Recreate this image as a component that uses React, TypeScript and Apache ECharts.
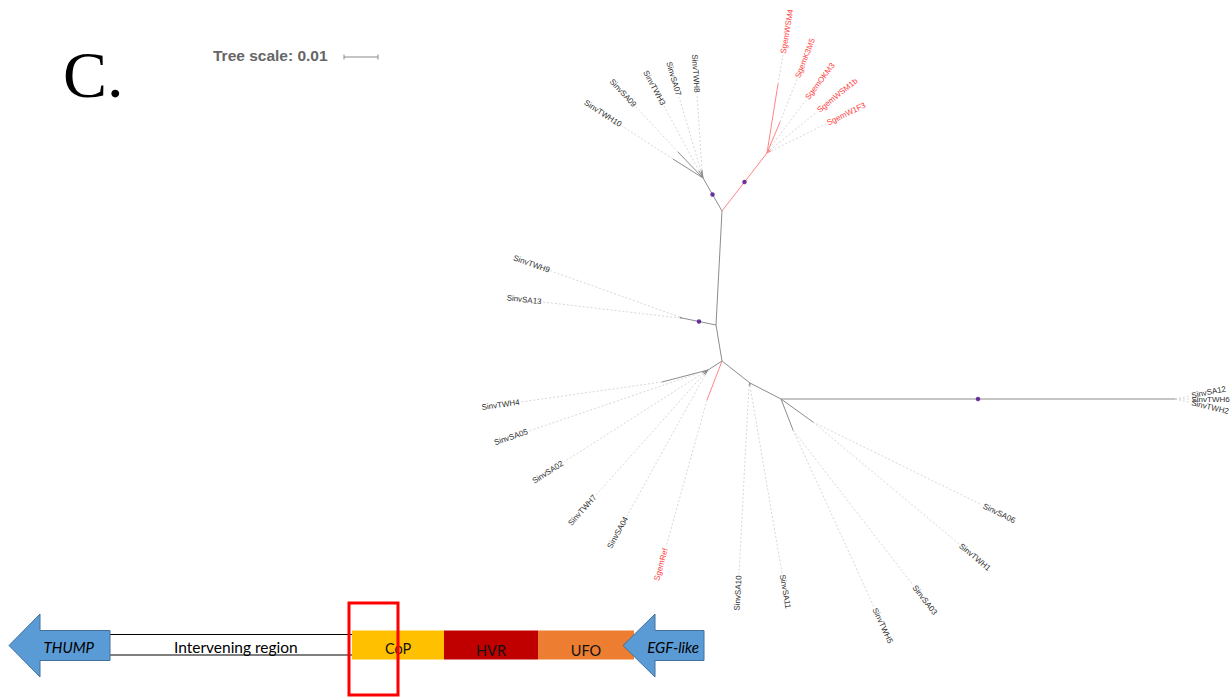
import { useEffect, useRef } from "react";
import * as echarts from "echarts";

// Unrooted ML tree of Sinv / Sgem haplotypes.
// Layout units: 34 units correspond to 0.01 substitutions per site.
const treeScale = 0.01;
const unitsPerSubstitution = 3400;

// Internal nodes: [id, x, y]
const nodes: [string, number, number][] = [
  ["C", 722, 361],
  ["U", 716, 325],
  ["T", 722, 211],
  ["G", 703, 178],
  ["R", 767, 153],
  ["H", 682, 318],
  ["L", 708, 370],
  ["D", 750, 383],
  ["E", 781, 399],
  ["F", 1175, 399],
  ["N1", 813, 422],
  ["N2", 793, 430],
];

// Internal branches: [from, to, clade, well supported]
const branches: [string, string, string, boolean][] = [
  ["C", "U", "Sinv", false],
  ["U", "T", "Sinv", false],
  ["T", "G", "Sinv", true],
  ["T", "R", "Sgem", true],
  ["U", "H", "Sinv", true],
  ["C", "L", "Sinv", false],
  ["C", "D", "Sinv", false],
  ["D", "E", "Sinv", false],
  ["E", "F", "Sinv", true],
  ["E", "N1", "Sinv", false],
  ["E", "N2", "Sinv", false],
];

// Terminal branches: [label, parent, branch end x, y, label anchor x, y]
const leaves: [string, string, number, number, number, number][] = [
  ["SinvTWH10", "G", 673, 159, 622, 126],
  ["SinvSA09", "G", 678, 152, 636, 107],
  ["SinvTWH3", "G", 699, 171, 664, 106],
  ["SinvSA07", "G", 701, 171, 679, 97],
  ["SinvTWH8", "G", 702, 170, 697, 94],
  ["SgemWSM4", "R", 778, 84, 783, 55],
  ["SgemK3M5", "R", 780, 122, 797, 79],
  ["SgemOKM3", "R", 769, 149, 806, 100],
  ["SgemWSM1b", "R", 770, 150, 817, 112],
  ["SgemW1F3", "R", 771, 151, 826, 124],
  ["SinvTWH9", "H", 680, 317, 551, 271],
  ["SinvSA13", "H", 680, 318, 543, 302],
  ["SinvTWH4", "L", 662, 382, 521, 402],
  ["SinvSA05", "L", 702, 372, 529, 431],
  ["SinvSA02", "L", 703, 373, 564, 462],
  ["SinvTWH7", "L", 704, 374, 596, 495],
  ["SinvSA04", "L", 705, 375, 627, 516],
  ["SgemRef", "C", 707, 400, 666, 547],
  ["SinvSA10", "D", 749, 385, 739, 574],
  ["SinvSA11", "D", 750, 386, 782, 573],
  ["SinvSA06", "N1", 813, 422, 982, 505],
  ["SinvTWH1", "N1", 813, 422, 959, 544],
  ["SinvSA03", "N2", 793, 430, 913, 585],
  ["SinvTWH5", "N2", 793, 430, 874, 607],
  ["SinvSA12", "F", 1175, 399, 1190, 396],
  ["SinvTWH6", "F", 1175, 399, 1190, 399],
  ["SinvTWH2", "F", 1175, 399, 1190, 402.5],
];

// Gene model below the tree
const geneArrows: [string, number, number, number][] = [
  // [name, tip, head base, tail]
  ["THUMP", 9, 40, 110],
  ["EGF-like", 623, 655, 704],
];
const intervening: [string, number, number][] = [["Intervening region", 110, 352]];
const domains: [string, number, number][] = [
  ["CoP", 352, 444],
  ["HVR", 444, 538],
  ["UFO", 538, 634],
];
const highlightBox: [number, number][] = [[349, 398]];

const GRAY_LINE = "#8c8c8c";
const RED_LINE = "#ff8585";
const DOT_LINE = "#cdcdcd";
const GRAY_TEXT = "#2e2e2e";
const RED_TEXT = "#ff3c3c";
const SANS = "'Liberation Sans', Arial, sans-serif";
const DIAGRAM_FONT = "Lato, 'Open Sans', sans-serif";
const GENE_Y = 645.5;
const domainColors: Record<string, string> = { CoP: "#ffc000", HVR: "#c00000", UFO: "#ed7d31" };

export default function App() {
  const ref = useRef<HTMLDivElement>(null);

  useEffect(() => {
    const el = ref.current;
    if (!el) return;
    const chart = echarts.init(el, undefined, { renderer: "svg" });

    const pos: Record<string, [number, number]> = {};
    nodes.forEach(([id, x, y]) => (pos[id] = [x, y]));

    const branchData = branches.map(([a, b, clade]) => [
      pos[a][0], pos[a][1], pos[b][0], pos[b][1], clade === "Sgem" ? 1 : 0,
    ]);
    const supportData = branches
      .filter((b) => b[3])
      .map(([a, b]) => [(pos[a][0] + pos[b][0]) / 2, (pos[a][1] + pos[b][1]) / 2]);
    const leafData = leaves.map(([, parent, ex, ey, tx, ty], i) => [
      pos[parent][0], pos[parent][1], ex, ey, tx, ty, i,
    ]);
    const scaleData = [[344, 344 + treeScale * unitsPerSubstitution]];

    const option: echarts.EChartsOption = {
      animation: false,
      backgroundColor: "#ffffff",
      grid: { left: 0, right: 0, top: 0, bottom: 0 },
      xAxis: { type: "value", min: 0, max: 1232, show: false },
      yAxis: { type: "value", min: 0, max: 697, inverse: true, show: false },
      graphic: [
        {
          type: "text",
          left: 63,
          top: 41,
          style: { text: "C.", font: "66px 'Liberation Serif', 'Times New Roman', serif", fill: "#000" },
        },
        {
          type: "text",
          left: 213,
          top: 47,
          style: {
            text: `Tree scale: ${treeScale}`,
            font: `bold 15.5px ${SANS}`,
            fill: "#666666",
          },
        },
      ],
      series: [
        {
          type: "custom",
          name: "branches",
          coordinateSystem: "cartesian2d",
          encode: { x: [0, 2], y: [1, 3] },
          data: branchData,
          silent: true,
          renderItem: (_p: any, api: any) => {
            const a = api.coord([api.value(0), api.value(1)]);
            const b = api.coord([api.value(2), api.value(3)]);
            return {
              type: "line",
              shape: { x1: a[0], y1: a[1], x2: b[0], y2: b[1] },
              style: { stroke: api.value(4) === 1 ? RED_LINE : GRAY_LINE, lineWidth: 1 },
            };
          },
        },
        {
          type: "custom",
          name: "leaves",
          coordinateSystem: "cartesian2d",
          encode: { x: [0, 2, 4], y: [1, 3, 5] },
          data: leafData,
          silent: true,
          renderItem: (_p: any, api: any) => {
            const name = leaves[api.value(6)][0];
            const red = name.startsWith("Sgem");
            const p = api.coord([api.value(0), api.value(1)]);
            const e = api.coord([api.value(2), api.value(3)]);
            const t = api.coord([api.value(4), api.value(5)]);
            const dx = t[0] - e[0];
            const dy = t[1] - e[1];
            const len = Math.hypot(dx, dy) || 1;
            const ang = Math.atan2(-dy, dx);
            const right = dx >= 0;
            const gap = 1.5;
            return {
              type: "group",
              children: [
                {
                  type: "line",
                  shape: { x1: p[0], y1: p[1], x2: e[0], y2: e[1] },
                  style: { stroke: red ? RED_LINE : GRAY_LINE, lineWidth: 1 },
                },
                {
                  type: "line",
                  shape: { x1: e[0], y1: e[1], x2: t[0], y2: t[1] },
                  style: { stroke: DOT_LINE, lineWidth: 0.8, lineDash: [2, 2] },
                },
                {
                  type: "text",
                  x: t[0] + (dx / len) * gap,
                  y: t[1] + (dy / len) * gap,
                  rotation: right ? ang : ang + Math.PI,
                  style: {
                    text: name,
                    fill: red ? RED_TEXT : GRAY_TEXT,
                    fontSize: 8,
                    fontFamily: SANS,
                    align: right ? "left" : "right",
                    verticalAlign: "middle",
                  },
                },
              ],
            };
          },
        },
        {
          type: "scatter",
          name: "support",
          data: supportData,
          symbolSize: 4.5,
          silent: true,
          itemStyle: { color: "#4b0a8c" },
        },
        {
          type: "custom",
          name: "scale",
          coordinateSystem: "cartesian2d",
          encode: { x: [0, 1] },
          data: scaleData,
          silent: true,
          renderItem: (_p: any, api: any) => {
            const a = api.coord([api.value(0), 57]);
            const b = api.coord([api.value(1), 57]);
            const st = { stroke: "#8a8a8a", lineWidth: 1 };
            return {
              type: "group",
              children: [
                { type: "line", shape: { x1: a[0], y1: a[1], x2: b[0], y2: b[1] }, style: st },
                { type: "line", shape: { x1: a[0], y1: a[1] - 2.5, x2: a[0], y2: a[1] + 2.5 }, style: st },
                { type: "line", shape: { x1: b[0], y1: b[1] - 2.5, x2: b[0], y2: b[1] + 2.5 }, style: st },
              ],
            };
          },
        },
        {
          type: "custom",
          name: "intervening",
          coordinateSystem: "cartesian2d",
          encode: { x: [1, 2] },
          data: intervening.map(([, s, e], i) => [i, s, e]),
          silent: true,
          renderItem: (_p: any, api: any) => {
            const a = api.coord([api.value(1), GENE_Y]);
            const b = api.coord([api.value(2), GENE_Y]);
            const cy = a[1];
            const st = { stroke: "#000", lineWidth: 1 };
            return {
              type: "group",
              children: [
                { type: "line", shape: { x1: a[0], y1: cy - 11, x2: b[0], y2: cy - 11 }, style: st },
                { type: "line", shape: { x1: a[0], y1: cy + 9.5, x2: b[0], y2: cy + 9.5 }, style: st },
                {
                  type: "text",
                  x: a[0] + (b[0] - a[0]) * 0.52,
                  y: cy + 1.5,
                  style: {
                    text: intervening[api.value(0)][0],
                    fill: "#000",
                    fontSize: 15.5,
                    fontFamily: DIAGRAM_FONT,
                    align: "center",
                    verticalAlign: "middle",
                  },
                },
              ],
            };
          },
        },
        {
          type: "custom",
          name: "domains",
          coordinateSystem: "cartesian2d",
          encode: { x: [1, 2] },
          data: domains.map(([, s, e], i) => [i, s, e]),
          silent: true,
          renderItem: (_p: any, api: any) => {
            const name = domains[api.value(0)][0];
            const a = api.coord([api.value(1), GENE_Y]);
            const b = api.coord([api.value(2), GENE_Y]);
            const cy = a[1];
            return {
              type: "group",
              children: [
                {
                  type: "rect",
                  shape: { x: a[0], y: cy - 15, width: b[0] - a[0], height: 29 },
                  style: { fill: domainColors[name] },
                },
                {
                  type: "text",
                  x: (a[0] + b[0]) / 2,
                  y: name === "CoP" ? cy + 2.5 : cy + 4.5,
                  style: {
                    text: name,
                    fill: "#111",
                    fontSize: 14.5,
                    fontFamily: DIAGRAM_FONT,
                    align: "center",
                    verticalAlign: "middle",
                  },
                },
              ],
            };
          },
        },
        {
          type: "custom",
          name: "genes",
          coordinateSystem: "cartesian2d",
          encode: { x: [1, 2, 3] },
          data: geneArrows.map(([, tip, head, tail], i) => [i, tip, head, tail]),
          silent: true,
          renderItem: (_p: any, api: any) => {
            const name = geneArrows[api.value(0)][0];
            const tip = api.coord([api.value(1), GENE_Y]);
            const head = api.coord([api.value(2), GENE_Y]);
            const tail = api.coord([api.value(3), GENE_Y]);
            const cy = tip[1];
            const hh = 31.5;
            const sh = 15;
            return {
              type: "group",
              children: [
                {
                  type: "polygon",
                  shape: {
                    points: [
                      [tip[0], cy],
                      [head[0], cy - hh],
                      [head[0], cy - sh],
                      [tail[0], cy - sh],
                      [tail[0], cy + sh],
                      [head[0], cy + sh],
                      [head[0], cy + hh],
                    ],
                  },
                  style: { fill: "#5b9bd5", stroke: "#41719c", lineWidth: 1 },
                },
                {
                  type: "text",
                  x: (tip[0] + tail[0]) / 2 + (head[0] - tip[0]) * 0.3,
                  y: cy + 1.5,
                  style: {
                    text: name,
                    fill: "#000",
                    fontSize: 15,
                    fontStyle: "italic",
                    fontFamily: DIAGRAM_FONT,
                    align: "center",
                    verticalAlign: "middle",
                  },
                },
              ],
            };
          },
        },
        {
          type: "custom",
          name: "highlight",
          coordinateSystem: "cartesian2d",
          encode: { x: [0, 1] },
          data: highlightBox,
          silent: true,
          z: 10,
          renderItem: (_p: any, api: any) => {
            const a = api.coord([api.value(0), 603]);
            const b = api.coord([api.value(1), 695]);
            return {
              type: "rect",
              shape: { x: a[0], y: a[1], width: b[0] - a[0], height: b[1] - a[1] },
              style: { fill: "none", stroke: "#ff0000", lineWidth: 3 },
            };
          },
        },
      ],
    };

    chart.setOption(option);
    return () => chart.dispose();
  }, []);

  return (
    <div
      ref={ref}
      style={{ position: "fixed", left: 0, top: 0, width: 1232, height: 697, background: "#fff" }}
    />
  );
}
